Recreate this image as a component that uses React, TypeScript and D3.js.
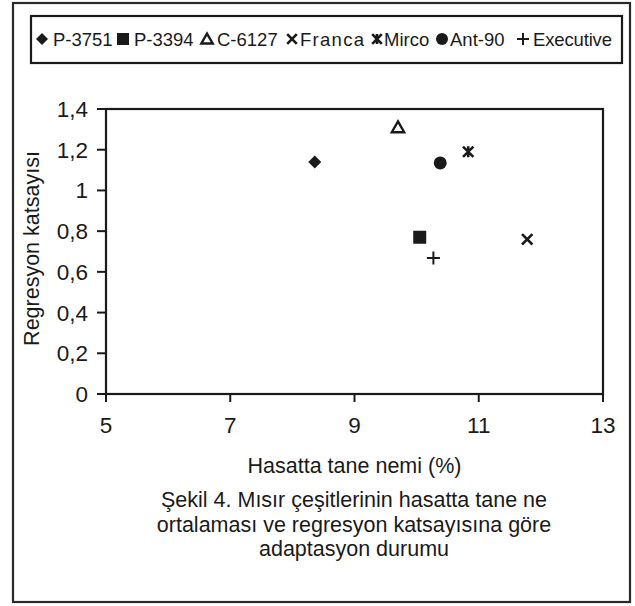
import React from "react";
import * as d3 from "d3";

const varieties = ["P-3751", "P-3394", "C-6127", "Franca", "Mirco", "Ant-90", "Executive"];
const moisture = [8.36, 10.05, 9.7, 11.78, 10.83, 10.38, 10.27];
const regression = [1.14, 0.77, 1.31, 0.76, 1.19, 1.135, 0.668];
const markerTypes = ["diamond", "square", "triangle", "x", "star", "circle", "plus"];
const xTicks = [5, 7, 9, 11, 13];
const yTicks = [0, 0.2, 0.4, 0.6, 0.8, 1, 1.2, 1.4];
const xTitle = "Hasatta tane nemi (%)";
const yTitle = "Regresyon katsayısı";
const captionLines = [
  "Şekil 4. Mısır çeşitlerinin hasatta tane ne",
  "ortalaması ve regresyon katsayısına göre",
  "adaptasyon durumu",
];

const INK = "#1a1a1a";
const FONT = "'Liberation Sans', Arial, sans-serif";

function Marker({ type, x, y, s }: { type: string; x: number; y: number; s: number }) {
  const h = s / 2;
  switch (type) {
    case "diamond":
      return <path d={`M${x},${y - h}L${x + h},${y}L${x},${y + h}L${x - h},${y}Z`} fill={INK} />;
    case "square":
      return <rect x={x - h} y={y - h} width={s} height={s} fill={INK} />;
    case "triangle":
      return (
        <path
          d={`M${x},${y - h * 0.9}L${x + h * 0.95},${y + h * 0.75}L${x - h * 0.95},${y + h * 0.75}Z`}
          fill="none"
          stroke={INK}
          strokeWidth={2.4}
          strokeLinejoin="miter"
        />
      );
    case "x":
      return (
        <path
          d={`M${x - h * 0.8},${y - h * 0.8}L${x + h * 0.8},${y + h * 0.8}M${x + h * 0.8},${y - h * 0.8}L${x - h * 0.8},${y + h * 0.8}`}
          stroke={INK}
          strokeWidth={2.6}
        />
      );
    case "star":
      return (
        <path
          d={`M${x - h * 0.8},${y - h * 0.8}L${x + h * 0.8},${y + h * 0.8}M${x + h * 0.8},${y - h * 0.8}L${x - h * 0.8},${y + h * 0.8}M${x},${y - h * 0.85}L${x},${y + h * 0.85}`}
          stroke={INK}
          strokeWidth={2.6}
        />
      );
    case "circle":
      return <circle cx={x} cy={y} r={h} fill={INK} />;
    case "plus":
      return (
        <path d={`M${x - h},${y}L${x + h},${y}M${x},${y - h}L${x},${y + h}`} stroke={INK} strokeWidth={2} />
      );
    default:
      return null;
  }
}

export default function App() {
  const W = 635;
  const H = 606;
  const left = 106, right = 603, top = 109, bottom = 394;
  const x = d3.scaleLinear().domain([5, 13]).range([left, right]);
  const y = d3.scaleLinear().domain([0, 1.4]).range([bottom, top]);
  const fmt = (v: number) => String(Math.round(v * 10) / 10).replace(".", ",");

  const legendMarkerX = [42, 123, 207, 292, 377, 442, 523];
  const legendTextX = [53, 134, 217, 300, 384, 450, 533];
  const legendTextW: (number | undefined)[] = [undefined, undefined, undefined, 64, undefined, undefined, 79];

  return (
    <svg
      width={W}
      height={H}
      style={{ position: "absolute", left: 0, top: 0, background: "#fff" }}
      fontFamily={FONT}
    >
      <rect x={0} y={0} width={W} height={H} fill="#fff" />
      {/* outer frame */}
      <rect x={13} y={3} width={617} height={599} fill="none" stroke="#2a2a2a" strokeWidth={2.2} />

      {/* legend */}
      <rect x={31} y={16} width={591} height={47} fill="none" stroke={INK} strokeWidth={2.2} />
      {varieties.map((v, i) => (
        <g key={v}>
          <Marker type={markerTypes[i]} x={legendMarkerX[i]} y={39} s={12} />
          <text
            x={legendTextX[i]}
            y={46}
            fontSize={18.5}
            fill={INK}
            textLength={legendTextW[i]}
            lengthAdjust={legendTextW[i] ? "spacing" : undefined}
          >
            {v}
          </text>
        </g>
      ))}

      {/* plot frame */}
      <rect x={left} y={top} width={right - left} height={bottom - top} fill="none" stroke={INK} strokeWidth={2.2} />

      {/* y ticks */}
      {yTicks.map((t) => (
        <g key={"y" + t}>
          <line x1={left - 9} x2={left} y1={y(t)} y2={y(t)} stroke={INK} strokeWidth={2} />
          <text x={88} y={y(t) + 8} textAnchor="end" fontSize={22.5} fill={INK}>
            {fmt(t)}
          </text>
        </g>
      ))}
      {/* x ticks */}
      {xTicks.map((t) => (
        <g key={"x" + t}>
          <line x1={x(t)} x2={x(t)} y1={bottom} y2={bottom + 8} stroke={INK} strokeWidth={2} />
          <text x={x(t)} y={433} textAnchor="middle" fontSize={22.5} fill={INK}>
            {t}
          </text>
        </g>
      ))}

      {/* axis titles */}
      <text
        transform={`translate(39,${(top + bottom) / 2 - 3}) rotate(-90)`}
        textAnchor="middle"
        fontSize={21.5}
        fill={INK}
      >
        {yTitle}
      </text>
      <text x={(left + right) / 2} y={473} textAnchor="middle" fontSize={21.5} fill={INK}>
        {xTitle}
      </text>

      {/* caption */}
      {captionLines.map((l, i) => (
        <text key={i} x={354} y={507 + i * 24.5} textAnchor="middle" fontSize={21.5} fill={INK}>
          {l}
        </text>
      ))}

      {/* points */}
      {varieties.map((v, i) => (
        <Marker key={"p" + v} type={markerTypes[i]} x={x(moisture[i])} y={y(regression[i])} s={13} />
      ))}
    </svg>
  );
}
